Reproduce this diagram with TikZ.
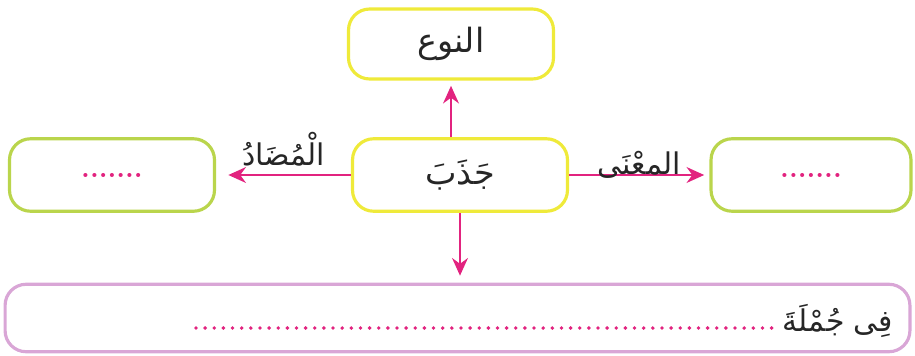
\documentclass[tikz,border=0pt]{standalone}
\usepackage{fontspec}
\usetikzlibrary{arrows.meta}
\newfontfamily\arabicfont[Script=Arabic]{DejaVu Sans}
\TeXXeTstate=1
\definecolor{boxyellow}{HTML}{EFEA3A}
\definecolor{boxgreen}{HTML}{BAD54C}
\definecolor{boxpink}{HTML}{D9A6D6}
\definecolor{arrowpink}{HTML}{E2237F}
\tikzset{
  wordbox/.style={draw=#1, line width=1.8pt, rounded corners=12pt, fill=white, align=center},
  arr/.style={draw=arrowpink, line width=1.3pt, -{Stealth[length=10pt,width=9pt]}},
  dotline/.style={draw=arrowpink, line width=2.2pt, line cap=round, dash pattern=on 0pt off 5.2pt},
  ar/.style={font=\arabicfont\fontsize{19}{22}\selectfont, text=black!85},
  arsmall/.style={font=\arabicfont\fontsize{17}{20}\selectfont, text=black!85},
  dots/.style={font=\bfseries\fontsize{16}{18}\selectfont, text=arrowpink}
}
\begin{document}
\begin{tikzpicture}[x=0.02cm, y=-0.02cm]
        \useasboundingbox (0,0) rectangle (915,355);
        \node[wordbox=boxyellow, minimum width=4.1cm, minimum height=1.4cm, ar] (T) at (451,44) {\beginR النوع\endR};
        \node[wordbox=boxyellow, minimum width=4.3cm, minimum height=1.45cm, ar] (C) at (460,175) {\beginR جَذَبَ\endR};
        \node[wordbox=boxgreen, minimum width=4.1cm, minimum height=1.45cm, dots] (L) at (112,175) {.......};
        \node[wordbox=boxgreen, minimum width=4.0cm, minimum height=1.45cm, dots] (R) at (811,175) {.......};
        \node[wordbox=boxpink, minimum width=18.1cm, minimum height=1.35cm] (B) at (457.5,318) {};
        \node[arsmall] (S) at (838,321) {\beginR فِى جُمْلَةَ\endR};
        \coordinate (d1) at (196,328);
        \coordinate (d2) at (772,328);

        \draw[arr, shorten >=3pt] (C.north -| T) -- (T.south);
        \draw[arr, shorten >=7pt] (C.west) -- node[above=1pt, arsmall]{\beginR الْمُضَادُ\endR} (L.east);
        \draw[arr, shorten >=3pt] (C.east) -- node[above=-6pt, arsmall]{\beginR المعْنَى\endR} (R.west);
        \draw[arr, shorten >=4pt] (C.south) -- (C.south |- B.north);
        \draw[dotline] (d1) -- (d2);
      \end{tikzpicture}
\end{document}
